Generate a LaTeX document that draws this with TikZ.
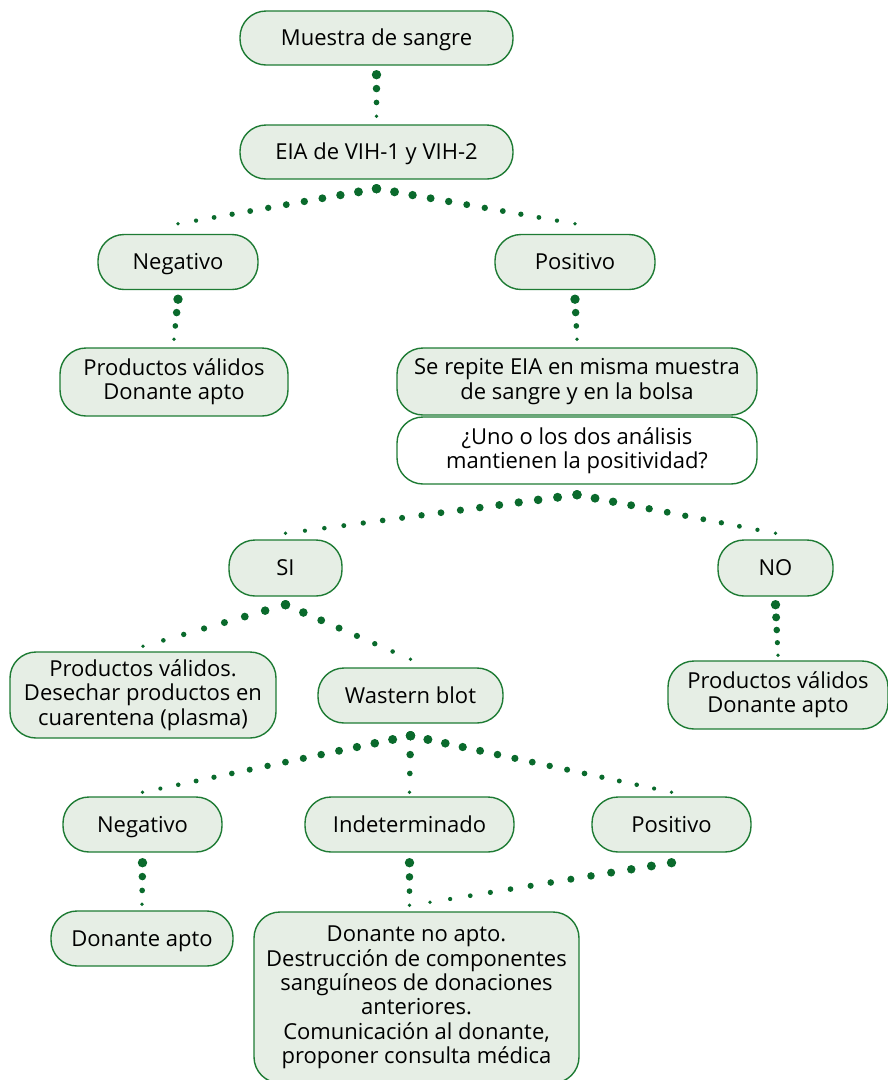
\documentclass[tikz,border=0pt]{standalone}
\usepackage{fontspec}
\setmainfont{Open Sans}
\usepackage{tikz}
\usetikzlibrary{calc}
\definecolor{boxfill}{HTML}{E6EEE5}
\definecolor{boxline}{HTML}{1E7B34}
\definecolor{dotgreen}{HTML}{0A6A2C}
\newcommand{\dotline}[3]{%
  \foreach \i in {0,...,#3}{%
    \pgfmathsetmacro{\dott}{\i/#3}%
    \pgfmathsetmacro{\dotr}{4.7-2.8*\i/#3}%
    \fill[dotgreen] ($(#1)!\dott!(#2)$) circle (\dotr pt);}}

\begin{document}
\begin{tikzpicture}[x=1pt,y=-1pt,
  box/.style={draw=boxline,fill=boxfill,line width=1.4pt,rounded corners=26pt,align=center,inner sep=0pt,font=\fontsize{22}{24.4}\selectfont},
  pill/.style={box,text height=15.5pt,text depth=0pt},
  qbox/.style={box,fill=white}]
  \useasboundingbox (0,0) rectangle (888,1080);
  \node[pill,minimum width=273,minimum height=54] (muestra) at (376.5,38) {Muestra de sangre};
  \node[pill,minimum width=273,minimum height=54] (eia) at (376.5,152) {EIA de VIH-1 y VIH-2};
  \node[pill,minimum width=160,minimum height=55] (neg1) at (178,262) {Negativo};
  \node[pill,minimum width=160,minimum height=55] (pos1) at (575,262) {Positivo};
  \node[box,minimum width=228,minimum height=68] (valido1) at (174,382) {Productos válidos\\Donante apto};
  \node[box,minimum width=360,minimum height=67] (repite) at (577,381.5) {Se repite EIA en misma muestra\\de sangre y en la bolsa};
  \node[qbox,minimum width=360,minimum height=67] (pregunta) at (577,450.5) {¿Uno o los dos análisis\\mantienen la positividad?};
  \node[pill,minimum width=113,minimum height=56] (si) at (285.5,568) {SI};
  \node[pill,minimum width=115,minimum height=56] (no) at (775.5,568) {NO};
  \node[box,minimum width=266,minimum height=86] (desechar) at (143,695) {Productos válidos.\\Desechar productos en\\cuarentena (plasma)};
  \node[pill,minimum width=185,minimum height=55] (wblot) at (410.5,695.5) {Wastern blot};
  \node[box,minimum width=220,minimum height=68] (valido2) at (778,695) {Productos válidos\\Donante apto};
  \node[pill,minimum width=159,minimum height=55] (neg2) at (142.5,824.5) {Negativo};
  \node[pill,minimum width=209,minimum height=55] (indet) at (409.5,824.5) {Indeterminado};
  \node[pill,minimum width=159,minimum height=55] (pos2) at (671.5,824.5) {Positivo};
  \node[pill,minimum width=182,minimum height=55] (apto) at (142,938.5) {Donante apto};
  \node[box,minimum width=325,minimum height=171] (noapto) at (416.5,997.5) {Donante no apto.\\Destrucción de componentes\\sanguíneos de donaciones\\anteriores.\\Comunicación al donante,\\proponer consulta médica};
  \coordinate (muestraB) at ($(muestra.south)+(0,9)$);
  \coordinate (eiaT) at ($(eia.north)+(0,-8)$);
  \coordinate (eiaB) at ($(eia.south)+(0,9)$);
  \coordinate (neg1T) at ($(neg1.north)+(0,-10)$);
  \coordinate (pos1T) at ($(pos1.north)+(0,-10)$);
  \coordinate (neg1B) at ($(neg1.south)+(0,9)$);
  \coordinate (pos1B) at ($(pos1.south)+(0,9)$);
  \coordinate (valido1T) at ($(valido1.north)+(0,-8)$);
  \coordinate (repiteT) at ($(repite.north)+(0,-8)$);
  \coordinate (preguntaB) at ($(pregunta.south)+(0,10)$);
  \coordinate (siT) at ($(si.north)+(0,-6)$);
  \coordinate (noT) at ($(no.north)+(0,-6)$);
  \coordinate (siB) at ($(si.south)+(0,8)$);
  \coordinate (noB) at ($(no.south)+(0,8)$);
  \coordinate (desecharT) at ($(desechar.north)+(0,-5)$);
  \coordinate (wblotT) at ($(wblot.north)+(0,-8)$);
  \coordinate (valido2T) at ($(valido2.north)+(0,-5)$);
  \coordinate (wblotB) at ($(wblot.south)+(0,12)$);
  \coordinate (neg2T) at ($(neg2.north)+(0,-4)$);
  \coordinate (indetT) at ($(indet.north)+(0,-4)$);
  \coordinate (pos2T) at ($(pos2.north)+(0,-4)$);
  \coordinate (neg2B) at ($(neg2.south)+(0,10)$);
  \coordinate (indetB) at ($(indet.south)+(0,10)$);
  \coordinate (pos2B) at ($(pos2.south)+(0,10)$);
  \coordinate (aptoT) at ($(apto.north)+(0,-6)$);
  \coordinate (noaptoT) at ($(indet.south |- noapto.north)+(0,-6)$);
  \coordinate (noaptoR) at ($(noapto.north)+(13.5,-9)$);
  \dotline{muestraB}{eiaT}{3}
  \dotline{eiaB}{neg1T}{11}
  \dotline{eiaB}{pos1T}{11}
  \dotline{neg1B}{valido1T}{3}
  \dotline{pos1B}{repiteT}{3}
  \dotline{preguntaB}{siT}{15}
  \dotline{preguntaB}{noT}{11}
  \dotline{siB}{desecharT}{7}
  \dotline{siB}{wblotT}{7}
  \dotline{noB}{valido2T}{4}
  \dotline{wblotB}{neg2T}{15}
  \dotline{wblotB}{indetT}{3}
  \dotline{wblotB}{pos2T}{15}
  \dotline{neg2B}{aptoT}{3}
  \dotline{indetB}{noaptoT}{3}
  \dotline{pos2B}{noaptoR}{12}
\end{tikzpicture}
\end{document}
